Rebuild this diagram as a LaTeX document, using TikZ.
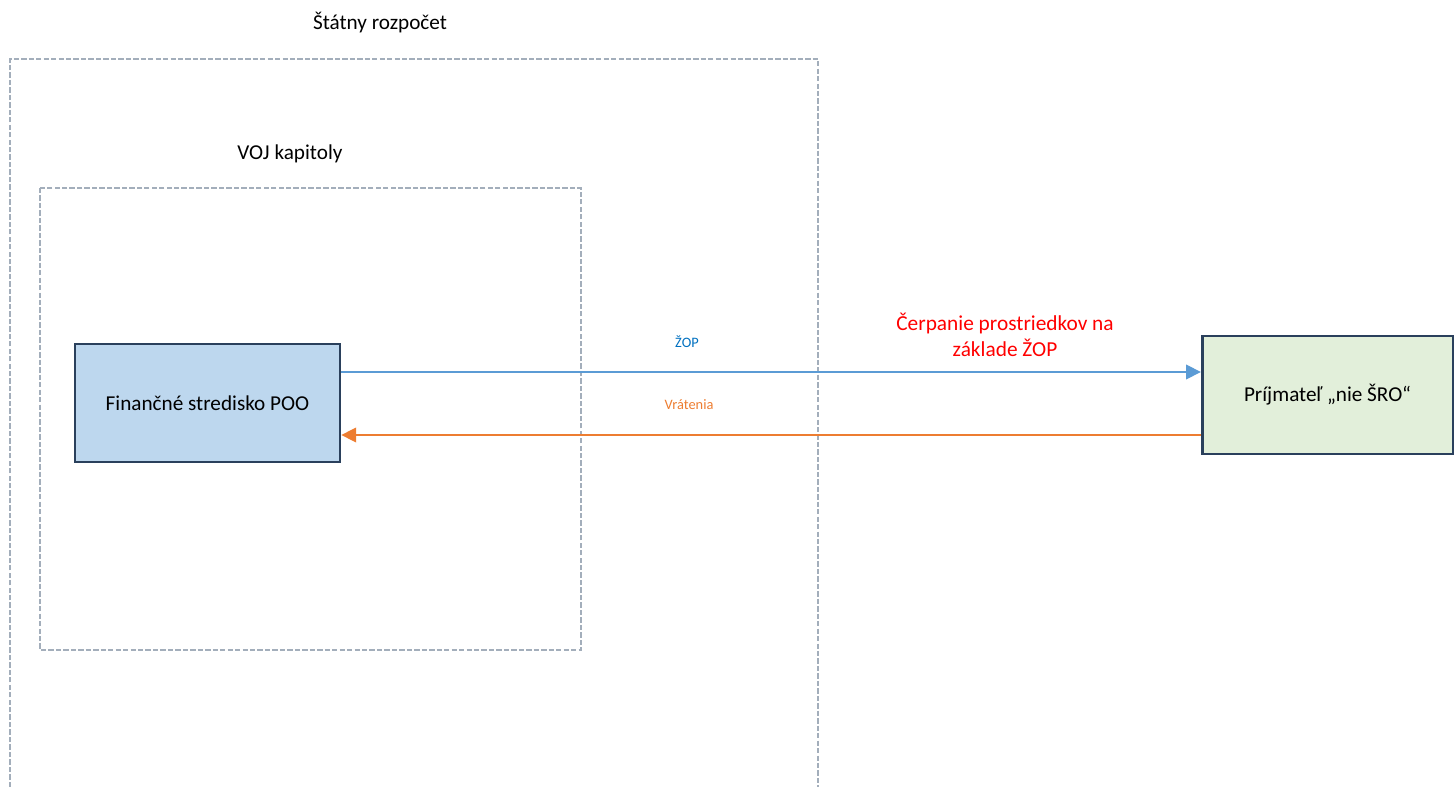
\documentclass[tikz,border=0pt]{standalone}
\usepackage{fontspec}
\setmainfont{Carlito}
\usetikzlibrary{arrows.meta}
\definecolor{dashgray}{HTML}{A3AEBB}
\definecolor{boxborder}{HTML}{2A405C}
\definecolor{bluefill}{HTML}{BDD7EE}
\definecolor{greenfill}{HTML}{E2EFDA}
\definecolor{arrblue}{HTML}{5B9BD5}
\definecolor{arrorange}{HTML}{ED7D31}
\definecolor{lblblue}{HTML}{0070C0}
\tikzset{
  region/.style={draw=dashgray, line width=0.9pt, dash pattern=on 4pt off 1.6pt},
  entity/.style={draw=boxborder, line width=2pt, minimum width=#1, minimum height=88.5pt, inner sep=0pt},
  title/.style={font=\fontsize{15.9}{19}\selectfont, inner sep=0pt},
  flow/.style={line width=1pt, -{Triangle[length=11pt,width=11pt]}},
  small/.style={font=\fontsize{10.8}{13}\selectfont, inner sep=0pt}
}
\begin{document}
\begin{tikzpicture}[x=0.75pt,y=-0.75pt]
\useasboundingbox (0,0) rectangle (1454,787);
% outer region (open at bottom)
\draw[region] (10,787) -- (10,59) -- (818,59) -- (818,787);
\node[title] (tsr) at (380,23) {Štátny rozpočet};
% inner region
\draw[region] (40,188) rectangle (581,650);
\node[title] (tvoj) at (290,154) {VOJ kapitoly};
% entities
\node[entity=198.8pt, fill=bluefill, font=\fontsize{15.9}{19}\selectfont] (fs) at (207.5,403) {Finančné stredisko POO};
\node[entity=188pt, fill=greenfill, font=\fontsize{15.9}{19}\selectfont] (pr) at (1327.5,395) {Príjmateľ „nie ŠRO“};
% flows
\coordinate (a1) at (fs.east |- 0,372);
\coordinate (a2) at (pr.west |- 0,372);
\coordinate (b1) at (pr.west |- 0,435);
\coordinate (b2) at (fs.east |- 0,435);
\draw[flow, draw=arrblue, fill=arrblue] (a1) -- (a2);
\draw[flow, draw=arrorange, fill=arrorange] (b1) -- (b2);
\node[small, text=lblblue] (lzop) at (687,342) {ŽOP};
\node[small, text=arrorange] (lvr) at (689,405) {Vrátenia};
\node[font=\fontsize{16}{19.5}\selectfont, text=red, align=center, inner sep=0pt] (cerp) at (1005,335) {Čerpanie prostriedkov na\\základe ŽOP};
\end{tikzpicture}
\end{document}
